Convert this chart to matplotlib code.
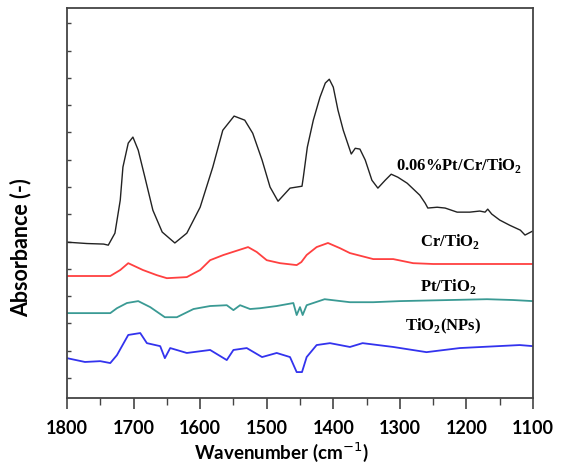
import matplotlib.pyplot as plt
from matplotlib.ticker import MultipleLocator

# FTIR spectra, stacked with vertical offsets (absorbance in arbitrary units)
wn_ptcr = [1800, 1770, 1745, 1738, 1728, 1720, 1716, 1708, 1701, 1693, 1683, 1671,
           1657, 1638, 1620, 1600, 1581, 1566, 1549, 1533, 1521, 1507, 1495, 1483,
           1465, 1447, 1445, 1439, 1430, 1420, 1412, 1406, 1400, 1393, 1385, 1373,
           1367, 1360, 1352, 1342, 1333, 1322, 1313, 1303, 1289, 1270, 1262, 1258,
           1244, 1232, 1214, 1195, 1180, 1172, 1168, 1162, 1150, 1135, 1119, 1112,
           1101]
ab_ptcr = [4.98, 4.93, 4.91, 4.87, 5.31, 6.52, 7.73, 8.61, 8.83, 8.35, 7.36, 6.15,
           5.35, 4.95, 5.31, 6.26, 7.73, 9.08, 9.60, 9.45, 8.97, 7.99, 7.00, 6.48,
           6.96, 7.03, 7.36, 8.46, 9.45, 10.29, 10.81, 10.95, 10.66, 9.82, 9.08, 8.21,
           8.42, 8.39, 7.99, 7.25, 6.96, 7.25, 7.47, 7.36, 7.14, 6.70, 6.41, 6.23,
           6.26, 6.23, 6.08, 6.08, 6.12, 6.08, 6.19, 6.01, 5.79, 5.60, 5.42, 5.24,
           5.38]

wn_cr = [1800, 1735, 1720, 1708, 1686, 1665, 1650, 1620, 1600, 1585, 1565, 1551,
         1528, 1515, 1500, 1480, 1455, 1448, 1440, 1425, 1408, 1390, 1375, 1340,
         1310, 1280, 1250, 1100]
ab_cr = [3.74, 3.74, 3.96, 4.21, 3.96, 3.77, 3.66, 3.70, 3.96, 4.32, 4.51, 4.62,
         4.80, 4.62, 4.32, 4.21, 4.14, 4.25, 4.51, 4.80, 4.95, 4.76, 4.58, 4.36,
         4.36, 4.21, 4.18, 4.18]

wn_pt = [1800, 1735, 1725, 1710, 1693, 1675, 1653, 1635, 1610, 1585, 1560, 1550,
         1540, 1525, 1510, 1485, 1460, 1455, 1450, 1446, 1440, 1413, 1375, 1340,
         1300, 1169, 1130, 1100]
ab_pt = [2.38, 2.38, 2.56, 2.75, 2.82, 2.60, 2.23, 2.23, 2.53, 2.64, 2.67, 2.49,
         2.67, 2.53, 2.56, 2.64, 2.75, 2.31, 2.60, 2.31, 2.67, 2.89, 2.78, 2.78,
         2.82, 2.89, 2.86, 2.82]

wn_tio2 = [1800, 1773, 1750, 1735, 1725, 1708, 1690, 1680, 1660, 1653, 1645, 1620,
           1585, 1560, 1550, 1530, 1507, 1485, 1465, 1455, 1447, 1440, 1425, 1405,
           1375, 1356, 1310, 1260, 1210, 1120, 1100]
ab_tio2 = [0.73, 0.59, 0.62, 0.55, 0.84, 1.58, 1.65, 1.28, 1.17, 0.73, 1.10, 0.92,
           1.03, 0.66, 1.03, 1.10, 0.77, 0.92, 0.77, 0.22, 0.22, 0.77, 1.21, 1.28,
           1.14, 1.28, 1.14, 0.95, 1.10, 1.21, 1.17]

fig = plt.figure(figsize=(5.63, 4.68), dpi=100)
ax = fig.add_axes([67 / 563, 70 / 468, 466 / 563, 390 / 468])

ax.plot(wn_ptcr, ab_ptcr, color='#222222', lw=1.0)
ax.plot(wn_cr, ab_cr, color='#ff4040', lw=1.3)
ax.plot(wn_pt, ab_pt, color='#3a9a94', lw=1.3)
ax.plot(wn_tio2, ab_tio2, color='#3333ee', lw=1.3)

ax.set_xlim(1800, 1100)
ax.set_ylim(-0.73, 13.56)

lbl = dict(family='Liberation Serif', fontweight='bold', fontsize=12,
           ha='center', va='center')
ax.text(1211, 7.8, '0.06%Pt/Cr/TiO$_\\mathregular{2}$', **lbl)
ax.text(1225, 5.0, 'Cr/TiO$_\\mathregular{2}$', **lbl)
ax.text(1228, 3.35, 'Pt/TiO$_\\mathregular{2}$', **lbl)
ax.text(1235, 1.88, 'TiO$_\\mathregular{2}$(NPs)', **lbl)

for s in ax.spines.values():
    s.set_color('#444444')
    s.set_linewidth(1.3)

ax.xaxis.set_major_locator(MultipleLocator(100))
ax.xaxis.set_minor_locator(MultipleLocator(50))
ax.tick_params(axis='x', which='major', direction='out', length=8, width=1.2,
               color='#444444', pad=8)
ax.tick_params(axis='x', which='minor', direction='out', length=5, width=1.0,
               color='#444444')
ax.yaxis.set_major_locator(MultipleLocator(1))
ax.tick_params(axis='y', direction='in', length=3, width=1.0, color='#444444',
               labelleft=False)

for t in ax.get_xticklabels():
    t.set_family('Lato')
    t.set_fontweight('bold')
    t.set_fontsize(13)

ax.set_xlabel('Wavenumber (cm$^{-1}$)', family='Lato', fontweight='bold',
              fontsize=13.5)
ax.set_ylabel('Absorbance (-)', family='Lato', fontweight='bold', fontsize=15.5)
ax.xaxis.set_label_coords(0.461, -0.108)
ax.yaxis.set_label_coords(-0.076, 0.385)

fig.savefig('out.png', dpi=100)
